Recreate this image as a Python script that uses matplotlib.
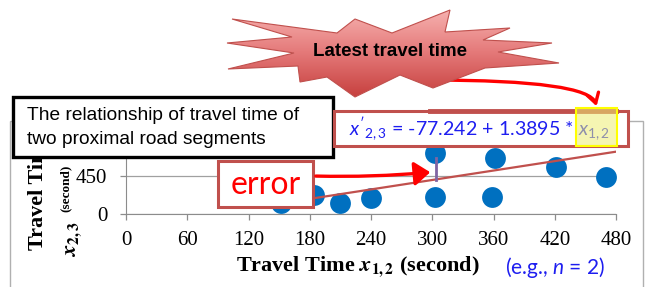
import matplotlib
matplotlib.use("Agg")
import matplotlib.pyplot as plt
import numpy as np
from matplotlib.patches import Rectangle, Polygon, FancyArrowPatch
from matplotlib.colors import LinearSegmentedColormap

# travel time of segment (1,2) vs segment (2,3), seconds
x12 = [152, 184, 210, 240, 303, 303, 361, 359, 421, 470]
x23 = [127, 225, 134, 186, 719, 198, 660, 205, 553, 442]
# hand drawn fit line and one error bar
fit_x = [183, 480]
fit_y = [185, 738]
err_x = [304, 304]
err_y = [403, 663]
xticks = [0, 60, 120, 180, 240, 300, 360, 420, 480]
yticks = [0, 450]

# starburst outline (pixels of the slide)
star = [(227, 43), (292, 37), (232, 19), (337, 33), (355, 19), (392, 33),
        (450, 10), (445, 32), (510, 28), (483, 40), (552, 43), (498, 52),
        (559, 63), (485, 68), (433, 88), (400, 75), (355, 97), (327, 77),
        (300, 82), (298, 66), (228, 69), (294, 53)]

plt.rcParams["mathtext.fontset"] = "custom"
plt.rcParams["mathtext.rm"] = "Lato"
plt.rcParams["mathtext.it"] = "Lato:italic"
plt.rcParams["mathtext.bf"] = "Lato:bold"

serif = "Liberation Serif"
sans = "Liberation Sans"
red_edge = "#C0504D"

fig = plt.figure(figsize=(6.47, 2.87), dpi=100)
fig.patch.set_facecolor("white")

ax = fig.add_axes([126 / 647, 73 / 287, 490 / 647, 76 / 287])
ax.scatter(x12, x23, s=225, color="#0070C0", zorder=3, clip_on=False, linewidths=0)
ax.plot(fit_x, fit_y, color=red_edge, lw=1.6, zorder=4)
ax.plot(err_x, err_y, color="#8064A2", lw=2, zorder=5)
ax.set_xlim(0, 480)
ax.set_ylim(0, 900)
ax.set_xticks(xticks)
ax.set_yticks(yticks)
ax.grid(axis="y", color="#A0A0A0", lw=0.9)
ax.set_axisbelow(True)
for s in ["top", "right"]:
    ax.spines[s].set_visible(False)
for s in ["left", "bottom"]:
    ax.spines[s].set_color("#8C8C8C")
ax.tick_params(axis="both", colors="#8C8C8C", length=4.5, width=0.9,
               labelcolor="black", labelsize=15)
ax.tick_params(axis="y", pad=9)
ax.tick_params(axis="x", pad=7.5)
for lab in ax.get_xticklabels() + ax.get_yticklabels():
    lab.set_fontfamily(serif)

# overlay in slide pixels for the annotations
ov = fig.add_axes([0, 0, 1, 1])
ov.set_xlim(0, 647)
ov.set_ylim(287, 0)
ov.axis("off")
ov.set_zorder(5)

# chart frame
ov.add_patch(Rectangle((10, 121), 633, 200, fc="none", ec="#B0B0B0", lw=1, zorder=1))

# axis titles
ov.text(358, 267, r"Travel Time $\mathbfit{x}_{\mathbf{1,2}}$ (second)", ha="center", va="center",
        fontsize=16, fontweight="bold", family=serif, math_fontfamily="stix")
ov.text(505, 267, r"(e.g., $n$ = 2)", ha="left", va="center", fontsize=15,
        family="Lato", color="#1E1EF0")
ov.text(38, 250, "Travel Time", rotation=90, ha="center", va="bottom",
        fontsize=16, fontweight="bold", family=serif)
ov.text(66, 212, "(second)", rotation=90, ha="center", va="bottom",
        fontsize=9.5, fontweight="bold", family=serif)
ov.text(74, 257, r"$\mathbfit{x}_{\mathbf{2,3}}$", rotation=90, ha="center", va="bottom",
        fontsize=16, math_fontfamily="stix")

# curved arrow from the burst to x1,2
ov.add_patch(FancyArrowPatch((428, 80), (597, 109), arrowstyle="->,head_length=0.5,head_width=0.3",
                             connectionstyle="angle3,angleA=0,angleB=90", mutation_scale=14,
                             color="#FF0000", lw=2.4, zorder=2))

# starburst with gradient
poly = Polygon(star, closed=True, fc="none", ec=red_edge, lw=0.8, zorder=4)
ov.add_patch(poly)
cmap = LinearSegmentedColormap.from_list("burst", ["#F7B3B1", "#E47878", "#C63F3D"])
grad = np.linspace(0, 1, 200).reshape(-1, 1)
im = ov.imshow(grad, extent=(220, 565, 98, 8), cmap=cmap, aspect="auto", origin="upper", zorder=3)
im.set_clip_path(poly)
ov.set_xlim(0, 647)
ov.set_ylim(287, 0)
ov.text(390, 52, "Latest travel time", ha="center", va="center", fontsize=13.5,
        fontweight="bold", family=sans, zorder=5)

# description box
ov.add_patch(Rectangle((13, 97), 320, 60, fc="white", ec="black", lw=2.4, zorder=6))
ov.text(27, 116, "The relationship of travel time of", va="center", fontsize=13.8, family=sans, zorder=7)
ov.text(27, 139, "two proximal road segments", va="center", fontsize=13.8, family=sans, zorder=7)

# equation box
ov.add_patch(Rectangle((334, 111), 294, 35, fc="white", ec=red_edge, lw=2.2, zorder=6))
ov.plot([430, 616], [110.5, 110.5], color=red_edge, lw=3.5, zorder=7)
ov.text(349, 129, r"$x'_{2,3}$ = -77.242 + 1.3895 * $x_{1,2}$", va="center", fontsize=14.1,
        family="Lato", color="#1E1EF0", zorder=7)
ov.add_patch(Rectangle((576, 108), 41, 38, fc=(0.93, 0.93, 0.45, 0.55), ec="#FFFF00", lw=1.5, zorder=8))

# error box and arrow
ov.add_patch(Rectangle((218, 161), 95, 46, fc="white", ec=red_edge, lw=2.2, zorder=6))
ov.text(265.5, 185, "error", ha="center", va="center", fontsize=23, family="Lato",
        color="#FF0000", zorder=7)
ov.add_patch(FancyArrowPatch((313, 176), (433, 172), arrowstyle="-|>,head_length=0.6,head_width=0.45",
                             connectionstyle="arc3,rad=0.03", mutation_scale=16,
                             color="#FF0000", lw=2.4, zorder=7))

fig.savefig("out.png", dpi=100)
